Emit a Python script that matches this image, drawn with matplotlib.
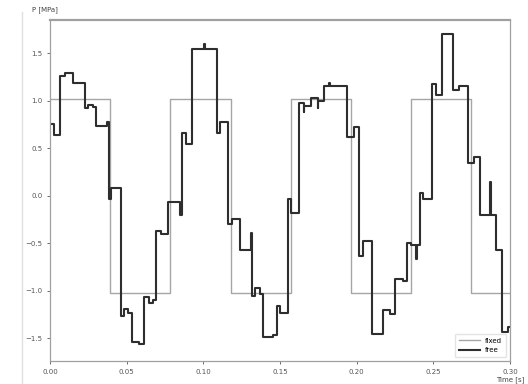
import matplotlib
matplotlib.use("Agg")
import matplotlib.pyplot as plt
from matplotlib.lines import Line2D

# fixed square wave: switch times and levels
fixed_t = [0.0, 0.0393, 0.0785, 0.1178, 0.1571, 0.1963, 0.2356, 0.2749, 0.30]
fixed_p = [1.02, -1.02, 1.02, -1.02, 1.02, -1.02, 1.02, -1.02, -1.02]

# free response (step values)
free_t = [0.0, 0.0025, 0.0065, 0.0100, 0.0150, 0.0230, 0.0250, 0.0280, 0.0300,
          0.0375, 0.0385, 0.0400, 0.0460, 0.0480, 0.0510, 0.0535, 0.0580, 0.0610,
          0.0645, 0.0670, 0.0690, 0.0725, 0.0768, 0.0850, 0.0860, 0.0885, 0.0924,
          0.1004, 0.1008, 0.1087, 0.1110, 0.1163, 0.1190, 0.1240, 0.1312, 0.1315,
          0.1340, 0.1370, 0.1390, 0.1455, 0.1480, 0.1500, 0.1550, 0.1570, 0.1624,
          0.1655, 0.1660, 0.1700, 0.1745, 0.1750, 0.1790, 0.1822, 0.1826, 0.1940,
          0.1985, 0.2015, 0.2040, 0.2100, 0.2174, 0.2215, 0.2250, 0.2300, 0.2326,
          0.2355, 0.2390, 0.2395, 0.2413, 0.2435, 0.2490, 0.2515, 0.2560, 0.2630,
          0.2665, 0.2730, 0.2765, 0.2805, 0.2872, 0.2876, 0.2910, 0.2946, 0.2985,
          0.3000]
free_p = [0.76, 0.64, 1.26, 1.29, 1.19, 0.92, 0.96, 0.93, 0.73,
          0.78, -0.04, 0.08, -1.27, -1.19, -1.23, -1.54, -1.56, -1.07,
          -1.13, -1.10, -0.37, -0.40, -0.07, -0.20, 0.66, 0.54, 1.54,
          1.60, 1.54, 0.66, 0.78, -0.30, -0.25, -0.57, -0.39, -1.06,
          -0.97, -1.03, -1.49, -1.47, -1.16, -1.23, -0.04, -0.18, 0.98,
          0.88, 0.94, 1.03, 0.92, 1.00, 1.15, 1.19, 1.15, 0.62,
          0.72, -0.64, -0.48, -1.46, -1.20, -1.25, -0.88, -0.90, -0.50,
          -0.52, -0.67, -0.52, 0.03, -0.04, 1.18, 1.06, 1.70, 1.11,
          1.16, 0.34, 0.41, -0.20, 0.14, -0.20, -0.57, -1.44, -1.38,
          -1.38]

fig = plt.figure(figsize=(5.28, 3.84), dpi=100)
ax = fig.add_axes([0.0947, 0.060, 0.871, 0.888])

ax.plot(fixed_t, fixed_p, drawstyle='steps-post', color='#a6a6a6', lw=1.0, label='fixed')
ax.plot(free_t, free_p, drawstyle='steps-post', color='#2e2e2e', lw=1.5, label='free')

ax.set_xlim(0, 0.30)
ax.set_ylim(-1.74, 1.85)
ax.set_xticks([0.0, 0.05, 0.10, 0.15, 0.20, 0.25, 0.30])
ax.set_yticks([-1.5, -1.0, -0.5, 0.0, 0.5, 1.0, 1.5])
ax.tick_params(labelsize=5, colors='#555555', length=2, width=0.6)

for s in ax.spines.values():
    s.set_color('#a0a0a0')
    s.set_linewidth(0.9)
ax.spines['top'].set_linewidth(1.6)

ax.set_ylabel('P [MPa]', rotation=0, fontsize=5, color='#444444')
ax.yaxis.set_label_coords(-0.01, 1.02)
ax.yaxis.label.set_ha('center')
ax.set_xlabel('Time [s]', fontsize=5, color='#444444')
ax.xaxis.set_label_coords(1.0, -0.045)
ax.xaxis.label.set_ha('center')

ax.legend(loc='lower right', fontsize=5, handlelength=3, frameon=True,
          edgecolor='#dddddd', borderpad=0.6)

# faint border of the screenshot on the left
fig.add_artist(Line2D([22 / 528, 22 / 528], [0, 0.97], color='#e0e0e0', lw=1.0))

fig.savefig('out.png', dpi=100)
